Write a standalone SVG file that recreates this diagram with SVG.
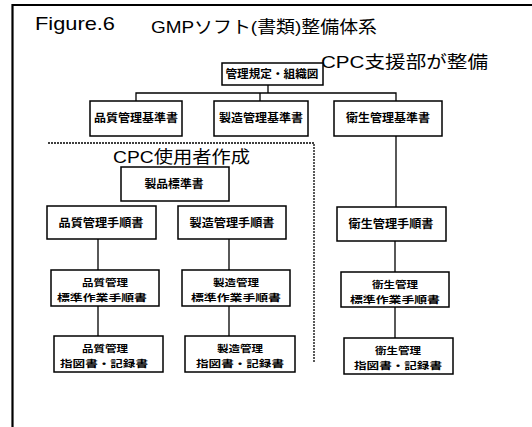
<svg xmlns="http://www.w3.org/2000/svg" width="532" height="427" viewBox="0 0 532 427">
<style>
.box{fill:#fff;stroke:#000;stroke-width:1.5}
.bt{font-family:"Noto Sans CJK JP","Noto Sans",sans-serif;font-weight:bold;font-size:11px;text-anchor:middle;fill:#000}
.b2{font-size:9.5px}
.ln{fill:none;stroke:#000;stroke-width:1.3}
.dot{fill:none;stroke:#000;stroke-width:1.3;stroke-dasharray:2 1}
.tt{font-family:"Liberation Sans","Noto Sans CJK JP",sans-serif;fill:#000}
</style>
<rect width="532" height="427" fill="#fff"/>
<g id="frame">
<path d="M12.5 427 V5 H532" fill="none" stroke="#000" stroke-width="2.2"/>
</g>
<g id="titles">
<text class="tt" x="35" y="30" font-size="19" textLength="80" lengthAdjust="spacingAndGlyphs">Figure.6</text>
<text class="tt" x="151" y="33" font-size="17" textLength="226" lengthAdjust="spacingAndGlyphs">GMPソフト(書類)整備体系</text>
<text class="tt" x="321" y="68" font-size="17" textLength="167" lengthAdjust="spacingAndGlyphs">CPC支援部が整備</text>
<text class="tt" x="113" y="163" font-size="17" textLength="137" lengthAdjust="spacingAndGlyphs">CPC使用者作成</text>
</g>
<g id="connectors">
<path class="ln" d="M268 85 V93 M136 101 V93 H396 V101 M260 93 V101"/>
<path class="ln" d="M396 136 V207 M395 241 V272 M395 307 V338"/>
<path class="ln" d="M98 239 V270 M98 306 V336 M229 239 V270 M229 306 V336"/>
<path class="dot" d="M48 143 H314 V363"/>
</g>
<g id="n_top"><rect class="box" x="222" y="63" width="101" height="22"/><text class="bt" x="272" y="78" textLength="93" lengthAdjust="spacingAndGlyphs">管理規定・組織図</text></g>
<g id="n_q1"><rect class="box" x="90" y="101" width="92" height="35"/><text class="bt" x="136" y="122" textLength="84" lengthAdjust="spacingAndGlyphs">品質管理基準書</text></g>
<g id="n_m1"><rect class="box" x="214" y="101" width="94" height="35"/><text class="bt" x="261" y="122" textLength="84" lengthAdjust="spacingAndGlyphs">製造管理基準書</text></g>
<g id="n_h1"><rect class="box" x="334" y="101" width="108" height="35"/><text class="bt" x="388" y="122" textLength="84" lengthAdjust="spacingAndGlyphs">衛生管理基準書</text></g>
<g id="n_p"><rect class="box" x="121" y="167" width="108" height="34"/><text class="bt" x="174" y="188" textLength="59" lengthAdjust="spacingAndGlyphs">製品標準書</text></g>
<g id="n_q2"><rect class="box" x="47" y="206" width="109" height="33"/><text class="bt" x="101" y="227" textLength="85" lengthAdjust="spacingAndGlyphs">品質管理手順書</text></g>
<g id="n_m2"><rect class="box" x="178" y="206" width="108" height="33"/><text class="bt" x="232" y="227" textLength="85" lengthAdjust="spacingAndGlyphs">製造管理手順書</text></g>
<g id="n_h2"><rect class="box" x="337" y="207" width="109" height="34"/><text class="bt" x="391" y="228" textLength="85" lengthAdjust="spacingAndGlyphs">衛生管理手順書</text></g>
<g id="n_q3"><rect class="box" x="51" y="270" width="108" height="36"/><text class="bt b2" x="105" y="286" textLength="46" lengthAdjust="spacingAndGlyphs">品質管理</text><text class="bt b2" x="102" y="300.5" textLength="90" lengthAdjust="spacingAndGlyphs">標準作業手順書</text></g>
<g id="n_m3"><rect class="box" x="182" y="270" width="108" height="36"/><text class="bt b2" x="236" y="286" textLength="46" lengthAdjust="spacingAndGlyphs">製造管理</text><text class="bt b2" x="236" y="300.5" textLength="90" lengthAdjust="spacingAndGlyphs">標準作業手順書</text></g>
<g id="n_h3"><rect class="box" x="341" y="272" width="108" height="35"/><text class="bt b2" x="395" y="288" textLength="46" lengthAdjust="spacingAndGlyphs">衛生管理</text><text class="bt b2" x="395" y="302.5" textLength="90" lengthAdjust="spacingAndGlyphs">標準作業手順書</text></g>
<g id="n_q4"><rect class="box" x="54" y="336" width="109" height="36"/><text class="bt b2" x="105" y="352" textLength="46" lengthAdjust="spacingAndGlyphs">品質管理</text><text class="bt b2" x="104" y="366.5" textLength="88" lengthAdjust="spacingAndGlyphs">指図書・記録書</text></g>
<g id="n_m4"><rect class="box" x="185" y="336" width="110" height="36"/><text class="bt b2" x="240" y="352" textLength="46" lengthAdjust="spacingAndGlyphs">製造管理</text><text class="bt b2" x="240" y="366.5" textLength="88" lengthAdjust="spacingAndGlyphs">指図書・記録書</text></g>
<g id="n_h4"><rect class="box" x="344" y="338" width="109" height="36"/><text class="bt b2" x="398" y="354" textLength="46" lengthAdjust="spacingAndGlyphs">衛生管理</text><text class="bt b2" x="398" y="368.5" textLength="88" lengthAdjust="spacingAndGlyphs">指図書・記録書</text></g>
</svg>
